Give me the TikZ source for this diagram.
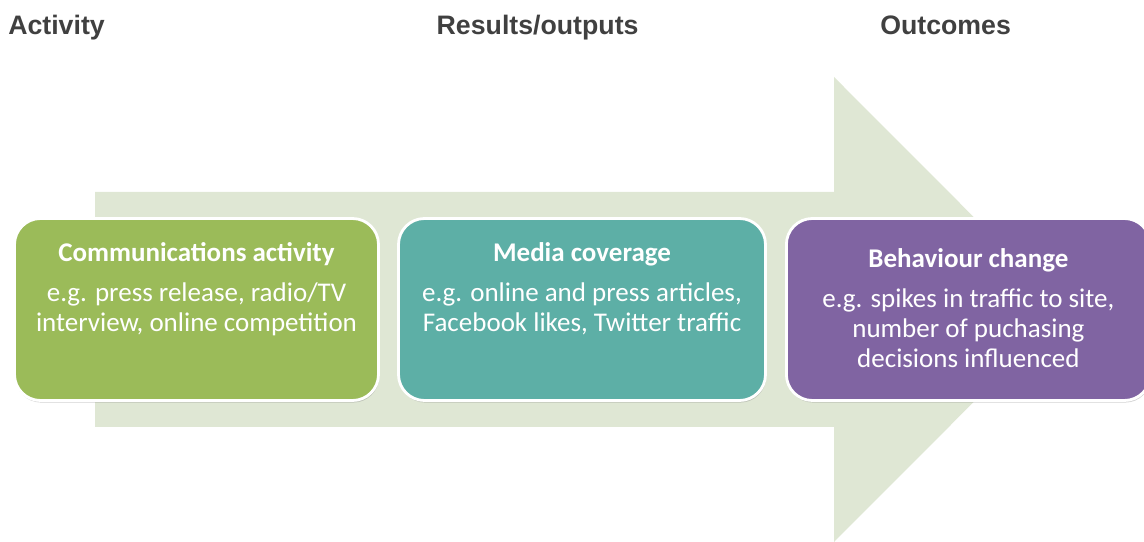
\documentclass[tikz,border=0pt]{standalone}
\usepackage{fontspec}
\setmainfont{Carlito}
\newfontfamily\headfont{Liberation Sans}
\usetikzlibrary{positioning,shadows}
\definecolor{arrowgreen}{HTML}{DFE7D4}
\definecolor{boxgreen}{HTML}{9BBB59}
\definecolor{boxteal}{HTML}{5DAFA6}
\definecolor{boxpurple}{HTML}{8064A2}
\definecolor{headgray}{HTML}{404040}

\begin{document}
\begin{tikzpicture}[
  stagebox/.style={rounded corners=0.65cm, draw=white, line width=2pt,
    minimum width=9.1cm, minimum height=4.55cm, inner sep=0pt,
    drop shadow={shadow xshift=0.5pt, shadow yshift=-1.5pt, opacity=0.35}},
  stagetitle/.style={text=white, anchor=base, inner sep=0pt,
    font=\bfseries\fontsize{19.2}{21.3}\selectfont},
  stagetext/.style={text=white, align=center, anchor=base, inner sep=0pt,
    font=\fontsize{19.2}{21.3}\selectfont},
  heading/.style={text=headgray, anchor=base, inner sep=0pt,
    font=\headfont\bfseries\fontsize{19}{21}\selectfont}
]
\useasboundingbox (0,0) rectangle (28.6,13.55);

% big arrow behind the boxes
\fill[arrowgreen] (2.375,2.875) -- (20.85,2.875) -- (20.85,0) -- (26.65,5.8125)
  -- (20.85,11.625) -- (20.85,8.75) -- (2.375,8.75) -- cycle;

\node[heading, anchor=base west] (activity) at (0.2,12.68) {Activity};
\node[heading] (results) at (13.44,12.68) {Results/outputs};
\node[heading] (outcomes) at (23.64,12.68) {Outcomes};

\node[stagebox, fill=boxgreen] (green) at (4.9125,5.8125) {};
\node[stagebox, fill=boxteal, minimum width=9.175cm] (teal) at (14.55,5.8125) {};
\node[stagebox, fill=boxpurple] (purple) at (24.21,5.8125) {};

% text sits in the upper part of each box
\node[stagetitle] (greentitle) at ([yshift=-1.12cm]green.north) {Communications activity};
\node[stagetext] (greenbody) at ([yshift=-2.87cm]green.north)
  {e.g. press release, radio/TV\\interview, online competition};

\node[stagetitle] (tealtitle) at ([yshift=-1.12cm]teal.north) {Media coverage};
\node[stagetext] (tealbody) at ([yshift=-2.87cm]teal.north)
  {e.g. online and press articles,\\Facebook likes, Twitter traffic};

\node[stagetitle] (purpletitle) at ([yshift=-1.25cm]purple.north) {Behaviour change};
\node[stagetext] (purplebody) at ([yshift=-3.75cm]purple.north)
  {e.g. spikes in traffic to site,\\number of puchasing\\decisions influenced};
\end{tikzpicture}
\end{document}
